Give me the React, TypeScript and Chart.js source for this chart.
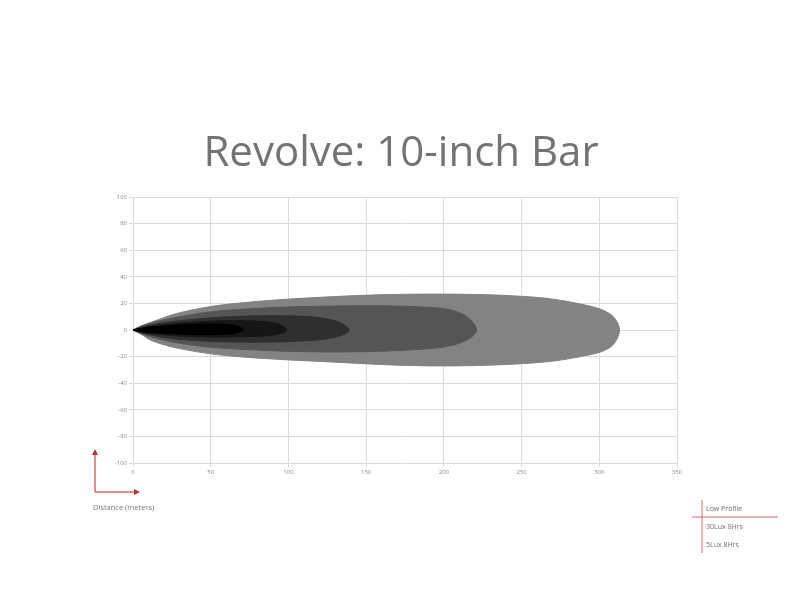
import React, { useEffect, useRef } from 'react'
import { Chart, registerables } from 'chart.js'

Chart.register(...registerables)

// Axis ticks
const xTicks = [0, 50, 100, 150, 200, 250, 300, 350]
const yTicks = [100, 80, 60, 40, 20, 0, -20, -40, -60, -80, -100]

// Beam contours (distance in m, upper / lower half-width in m), outermost first
const outerX = [0, 5, 12, 30, 62, 127, 191, 255, 288, 307, 313]
const outerUp = [0, 3, 6, 13, 19.5, 25, 27, 25, 19.5, 12, 0]
const outerLo = [0, -3, -8, -14, -19.5, -24, -27, -25, -20, -13, 0]

const secondX = [0, 8, 30, 62, 127, 191, 212, 221]
const secondUp = [0, 4, 10, 15, 18, 17, 12, 0]
const secondLo = [0, -4, -10, -14, -16.5, -14, -9, 0]

const thirdX = [0, 10, 30, 62, 105, 130, 139]
const thirdUp = [0, 3.5, 7, 10, 10.5, 7, 0]
const thirdLo = [0, -3.5, -7, -9, -8.5, -5.5, 0]

const fourthX = [0, 10, 40, 72, 92, 99]
const fourthUp = [0, 2.5, 6, 7, 5, 0]
const fourthLo = [0, -2.5, -5, -5, -3.5, 0]

const fifthX = [0, 6, 20, 45, 65, 71]
const fifthUp = [0, 1.5, 3, 4.5, 3.5, 0]
const fifthLo = [0, -1.5, -2.5, -3.5, -2.5, 0]

const legendLabels = ['Low Profile', '30Lux 8Hrs', '5Lux 8Hrs']

const polygon = (xs: number[], up: number[], lo: number[]) => {
  const top = xs.map((x, i) => ({ x, y: up[i] }))
  const bottom = xs.map((x, i) => ({ x, y: lo[i] })).reverse()
  return [...top, ...bottom.slice(1)]
}

const contours = [
  { data: polygon(outerX, outerUp, outerLo), color: '#838383' },
  { data: polygon(secondX, secondUp, secondLo), color: '#555555' },
  { data: polygon(thirdX, thirdUp, thirdLo), color: '#2f2f2f' },
  { data: polygon(fourthX, fourthUp, fourthLo), color: '#161616' },
  { data: polygon(fifthX, fifthUp, fifthLo), color: '#000000' }
]

const RED = '#d9686a'

const arrowHead = (ctx: CanvasRenderingContext2D, x: number, y: number, dir: 'up' | 'right') => {
  ctx.beginPath()
  if (dir === 'up') {
    ctx.moveTo(x, y - 4)
    ctx.lineTo(x - 3, y + 2)
    ctx.lineTo(x + 3, y + 2)
  } else {
    ctx.moveTo(x + 4, y)
    ctx.lineTo(x - 2, y - 3)
    ctx.lineTo(x - 2, y + 3)
  }
  ctx.closePath()
  ctx.fill()
}

// Title and the small annotation marks around the plot
const extrasPlugin = {
  id: 'extras',
  afterDraw(chart: Chart) {
    const ctx = chart.ctx
    ctx.save()
    ctx.fillStyle = '#737373'
    ctx.font = '400 42px "Open Sans", sans-serif'
    ctx.textAlign = 'center'
    ctx.textBaseline = 'alphabetic'
    ctx.fillText('Revolve: 10-inch Bar', 401, 166)

    // axis direction marks, bottom left
    ctx.strokeStyle = RED
    ctx.fillStyle = '#b8323a'
    ctx.lineWidth = 1.5
    ctx.beginPath()
    ctx.moveTo(95, 492)
    ctx.lineTo(95, 453)
    ctx.moveTo(95, 492)
    ctx.lineTo(136, 492)
    ctx.stroke()
    arrowHead(ctx, 95, 453, 'up')
    arrowHead(ctx, 136, 492, 'right')

    ctx.fillStyle = '#7a7a7a'
    ctx.font = '7.5px "Open Sans", sans-serif'
    ctx.textAlign = 'left'
    ctx.textBaseline = 'middle'
    ctx.fillText('Distance (meters)', 93, 508)

    // legend marks, bottom right
    ctx.strokeStyle = RED
    ctx.lineWidth = 1
    ctx.beginPath()
    ctx.moveTo(702, 500)
    ctx.lineTo(702, 553)
    ctx.moveTo(692, 517)
    ctx.lineTo(778, 517)
    ctx.stroke()

    ctx.fillStyle = '#6e6e6e'
    ctx.font = '7px "Open Sans", sans-serif'
    legendLabels.forEach((t, i) => {
      ctx.fillText(t, 706, 509 + i * 18)
    })
    ctx.restore()
  }
}

const BeamChart: React.FC = () => {
  const canvasRef = useRef<HTMLCanvasElement>(null)

  useEffect(() => {
    if (!canvasRef.current) return

    const chart = new Chart(canvasRef.current, {
      type: 'line',
      data: {
        datasets: contours.map((c, i) => ({
          data: c.data,
          borderColor: c.color,
          backgroundColor: c.color,
          borderWidth: 1,
          pointRadius: 0,
          tension: 0.35,
          fill: 'shape',
          order: contours.length - i
        }))
      },
      options: {
        animation: false,
        responsive: true,
        maintainAspectRatio: false,
        layout: {
          padding: { left: 0, right: 123, top: 197, bottom: 119 }
        },
        plugins: {
          legend: { display: false },
          tooltip: { enabled: false },
          title: { display: false }
        },
        scales: {
          x: {
            type: 'linear',
            min: xTicks[0],
            max: xTicks[xTicks.length - 1],
            afterBuildTicks: (axis: any) => {
              axis.ticks = xTicks.map((v) => ({ value: v }))
            },
            afterFit: (axis: any) => {
              axis.height = 20
            },
            grid: { color: '#dcdcdc', tickLength: 4 },
            border: { color: '#dcdcdc' },
            ticks: {
              color: '#8a8a8a',
              font: { size: 6, family: 'Open Sans' },
              padding: 2,
              maxRotation: 0
            }
          },
          y: {
            type: 'linear',
            min: -100,
            max: 100,
            afterBuildTicks: (axis: any) => {
              axis.ticks = yTicks.map((v) => ({ value: v }))
            },
            afterFit: (axis: any) => {
              axis.width = 133
            },
            grid: { color: '#dcdcdc', tickLength: 4 },
            border: { color: '#dcdcdc' },
            ticks: {
              color: '#8a8a8a',
              font: { size: 6, family: 'Open Sans' },
              padding: 2
            }
          }
        }
      },
      plugins: [extrasPlugin]
    } as any)

    return () => {
      chart.destroy()
    }
  }, [])

  return (
    <div style={{ position: 'fixed', left: 0, top: 0, width: 800, height: 602, background: '#fff' }}>
      <canvas ref={canvasRef} />
    </div>
  )
}

export default function App() {
  return <BeamChart />
}
